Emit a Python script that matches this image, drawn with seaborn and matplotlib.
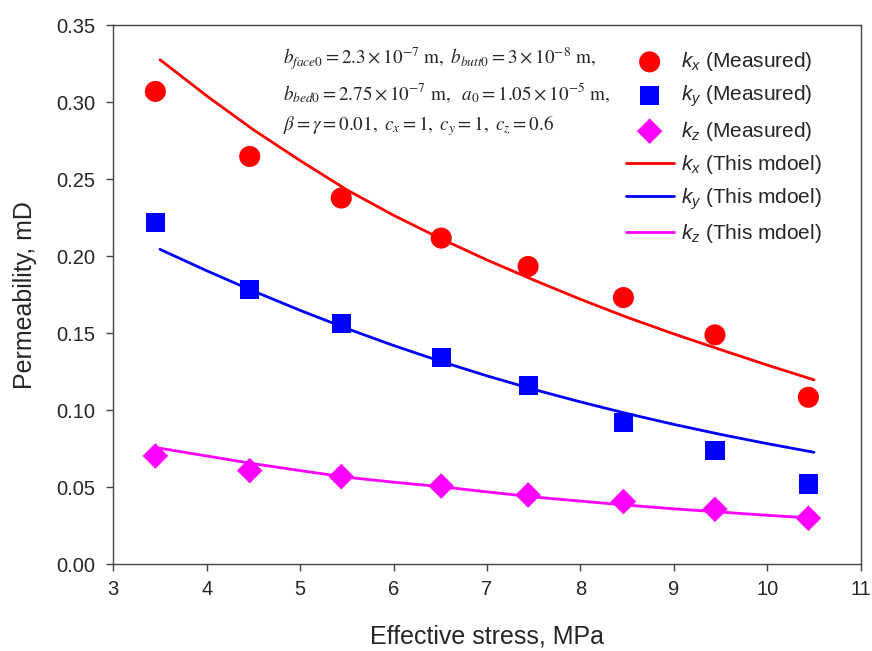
import matplotlib
matplotlib.use("Agg")
import matplotlib.pyplot as plt
import seaborn as sns
import pandas as pd

# Measured data
stress = [3.45, 4.46, 5.44, 6.51, 7.44, 8.46, 9.44, 10.44]
kx_meas = [0.3069, 0.2647, 0.2377, 0.2117, 0.1933, 0.1731, 0.1489, 0.1084]
ky_meas = [0.2218, 0.1781, 0.1560, 0.1344, 0.1158, 0.0920, 0.0738, 0.0521]
kz_meas = [0.0703, 0.0608, 0.0569, 0.0508, 0.0450, 0.0407, 0.0357, 0.0299]

# Model curves
stress_model = [3.5, 4.0, 4.5, 5.0, 5.5, 6.0, 6.5, 7.0, 7.5, 8.0, 8.5, 9.0, 9.5, 10.0, 10.5]
kx_model = [0.3275, 0.3040, 0.2820, 0.2620, 0.2430, 0.2265, 0.2115, 0.1975, 0.1845,
            0.1720, 0.1603, 0.1495, 0.1393, 0.1293, 0.1197]
ky_model = [0.2044, 0.1905, 0.1773, 0.1648, 0.1530, 0.1420, 0.1318, 0.1223, 0.1135,
            0.1054, 0.0978, 0.0908, 0.0843, 0.0783, 0.0727]
kz_model = [0.0753, 0.0703, 0.0653, 0.0608, 0.0565, 0.0533, 0.0504, 0.0470, 0.0437,
            0.0410, 0.0384, 0.0360, 0.0339, 0.0318, 0.0299]

x_ticks = [3, 4, 5, 6, 7, 8, 9, 10, 11]
y_ticks = [0.00, 0.05, 0.10, 0.15, 0.20, 0.25, 0.30, 0.35]

sns.set_theme(style="white")
plt.rcParams['font.family'] = ['Liberation Sans', 'DejaVu Sans']
plt.rcParams['mathtext.fontset'] = 'custom'
plt.rcParams['mathtext.it'] = 'Liberation Sans:italic'
plt.rcParams['mathtext.rm'] = 'Liberation Sans'

W, H = 872, 651
fig = plt.figure(figsize=(W / 100, H / 100), dpi=100)
ax = fig.add_axes([113.3 / W, 1 - 564.3 / H, (860.7 - 113.3) / W, (564.3 - 25) / H])

meas = pd.DataFrame({"x": stress, "kx": kx_meas, "ky": ky_meas, "kz": kz_meas})
model = pd.DataFrame({"x": stress_model, "kx": kx_model, "ky": ky_model, "kz": kz_model})

sns.scatterplot(data=meas, x="x", y="kx", ax=ax, marker="o", s=230, color="#ff0000",
                edgecolor="none", label=r"$k_x$ (Measured)", zorder=3)
sns.scatterplot(data=meas, x="x", y="ky", ax=ax, marker="s", s=190, color="#0000ff",
                edgecolor="none", label=r"$k_y$ (Measured)", zorder=3)
sns.scatterplot(data=meas, x="x", y="kz", ax=ax, marker="D", s=170, color="#ff00ff",
                edgecolor="none", label=r"$k_z$ (Measured)", zorder=3)
sns.lineplot(data=model, x="x", y="kx", ax=ax, color="#ff0000", lw=2.0,
             label=r"$k_x$ (This mdoel)", zorder=2)
sns.lineplot(data=model, x="x", y="ky", ax=ax, color="#0000ff", lw=2.0,
             label=r"$k_y$ (This mdoel)", zorder=2)
sns.lineplot(data=model, x="x", y="kz", ax=ax, color="#ff00ff", lw=2.0,
             label=r"$k_z$ (This mdoel)", zorder=2)

ax.set_xlim(3, 11)
ax.set_ylim(0, 0.35)
ax.set_xticks(x_ticks)
ax.set_yticks(y_ticks)
ax.set_yticklabels([f"{v:.2f}" for v in y_ticks])
ax.set_xlabel("Effective stress, MPa", fontsize=18, labelpad=19)
ax.set_ylabel("Permeability, mD", fontsize=18, labelpad=14)
ax.tick_params(axis="both", which="major", labelsize=14.5, direction="out", length=5,
               width=1, color="#444444", bottom=True, left=True, top=False, right=False)
ax.tick_params(axis="y", pad=8)
ax.tick_params(axis="x", pad=6)
for sp in ax.spines.values():
    sp.set_color("#444444")
    sp.set_linewidth(1.0)
ax.grid(False)

leg = ax.legend(loc="upper right", frameon=False, fontsize=15, handlelength=2.3,
                labelspacing=0.5, borderaxespad=0.0, handletextpad=0.35,
                bbox_to_anchor=(830 / W, 1 - 42 / H), bbox_transform=fig.transFigure)

ann = (r"$b_{face0} = 2.3\times10^{-7}\ \mathrm{m},\ b_{butt0} = 3\times10^{-8}\ \mathrm{m},$" "\n"
       r"$b_{bed0} = 2.75\times10^{-7}\ \mathrm{m},\ \ a_0 = 1.05\times10^{-5}\ \mathrm{m},$" "\n"
       r"$\beta = \gamma = 0.01,\ c_x = 1,\ c_y = 1,\ c_z = 0.6$")
fig.text(283 / W, 1 - 46 / H, ann, fontsize=13.8, va="top", ha="left",
         linespacing=1.5, math_fontfamily="stix")

fig.savefig("out.png", dpi=100)
